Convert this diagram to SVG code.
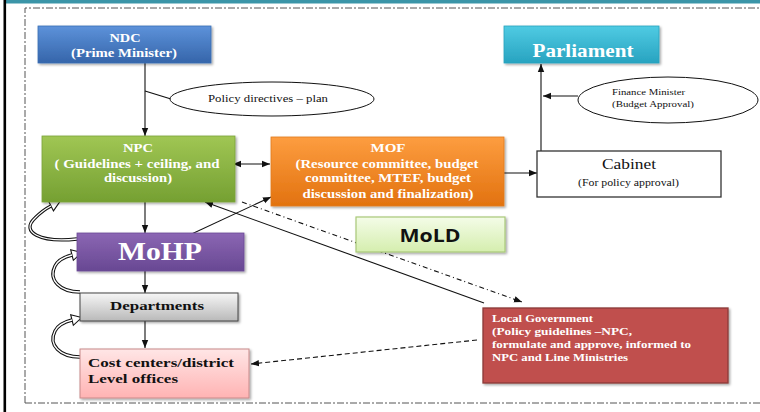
<svg xmlns="http://www.w3.org/2000/svg" width="760" height="412" viewBox="0 0 760 412">
<defs>
<style>
.t{font-family:"Liberation Serif","Times New Roman",serif;font-weight:bold;fill:#fff;}
.tb{font-family:"Liberation Serif","Times New Roman",serif;font-weight:bold;fill:#111;}
.tr{font-family:"Liberation Serif","Times New Roman",serif;fill:#111;}
.c{stroke:#111;stroke-width:1.1;fill:none;}
.hb{stroke:#111;stroke-width:3.4;fill:none;}
.hw{stroke:#fff;stroke-width:1.3;fill:none;}
</style>
<linearGradient id="gBlue" x1="0" y1="0" x2="0" y2="1"><stop offset="0" stop-color="#5d92da"/><stop offset="1" stop-color="#3565aa"/></linearGradient>
<linearGradient id="gTeal" x1="0" y1="0" x2="0" y2="1"><stop offset="0" stop-color="#4fcbe3"/><stop offset="1" stop-color="#28a3c0"/></linearGradient>
<linearGradient id="gGreen" x1="0" y1="0" x2="0" y2="1"><stop offset="0" stop-color="#a0c654"/><stop offset="1" stop-color="#75a032"/></linearGradient>
<linearGradient id="gOrange" x1="0" y1="0" x2="0" y2="1"><stop offset="0" stop-color="#fd9d40"/><stop offset="1" stop-color="#e2720f"/></linearGradient>
<linearGradient id="gPurple" x1="0" y1="0" x2="0" y2="1"><stop offset="0" stop-color="#8b66b3"/><stop offset="1" stop-color="#684893"/></linearGradient>
<linearGradient id="gGray" x1="0" y1="0" x2="0" y2="1"><stop offset="0" stop-color="#f6f6f6"/><stop offset="1" stop-color="#b9b9b9"/></linearGradient>
<linearGradient id="gPink" x1="0" y1="0" x2="0" y2="1"><stop offset="0" stop-color="#ffe6e6"/><stop offset="1" stop-color="#ffb3b3"/></linearGradient>
<linearGradient id="gLime" x1="0" y1="0" x2="0" y2="1"><stop offset="0" stop-color="#f4fce8"/><stop offset="1" stop-color="#d5eeae"/></linearGradient>
<filter id="sh" x="-10%" y="-10%" width="120%" height="130%"><feDropShadow dx="1.5" dy="1.5" stdDeviation="1" flood-color="#000" flood-opacity="0.35"/></filter>
<marker id="ah" markerUnits="userSpaceOnUse" markerWidth="9" markerHeight="8" refX="8" refY="4" orient="auto-start-reverse" viewBox="0 0 9 8"><path d="M0,0.8 L8,4 L0,7.2 Z" fill="#111"/></marker>
<marker id="hol" markerUnits="userSpaceOnUse" markerWidth="13" markerHeight="14" refX="1" refY="7" orient="auto" viewBox="0 0 13 14"><path d="M1,1.5 L11,7 L1,12.5 Z" fill="#fff" stroke="#111" stroke-width="1.1"/></marker>
</defs>

<rect x="0" y="0" width="760" height="412" fill="#fff"/>
<rect x="6" y="0" width="754" height="3.5" fill="#3b95a8"/>
<rect x="3.5" y="0" width="2.6" height="412" fill="#000"/>
<path d="M25,403 L25,8 L760,8 M25,403 L760,403" fill="none" stroke="#555" stroke-width="1" stroke-dasharray="7,2,2,2"/>

<g id="connectors">
<path class="c" d="M145,63 L145,136" marker-end="url(#ah)"/>
<path class="c" d="M145,91 L171,99"/>
<path class="c" d="M233,164 L270,164" marker-start="url(#ah)" marker-end="url(#ah)"/>
<path class="c" d="M145,202 L145,233" marker-end="url(#ah)"/>
<path class="c" d="M183,238 L271,197" marker-end="url(#ah)"/>
<path class="c" d="M484,303 L205,202" marker-end="url(#ah)"/>
<path class="c" d="M242,202 L522,302" stroke-dasharray="5,3,1,3" marker-end="url(#ah)"/>
<path class="c" d="M504,173 L537,173" stroke="#555" stroke-width="1.6" marker-end="url(#ah)"/>
<path class="c" d="M541,151 L541,64" marker-end="url(#ah)"/>
<path class="c" d="M578,96 L543,96" marker-end="url(#ah)"/>
<path class="c" d="M145,271 L145,293" marker-end="url(#ah)"/>
<path class="c" d="M145,321 L145,348" marker-end="url(#ah)"/>
<path class="c" d="M477,340 L251,364" stroke-dasharray="5,3" marker-end="url(#ah)"/>
<path class="hb" d="M77,239 C40,243 20,232 35,218 C40,213 45,209 51,206" marker-end="url(#hol)"/>
<path class="hw" d="M77,239 C40,243 20,232 35,218 C40,213 45,209 51,206"/>
<path class="hb" d="M80,292 C60,292 48,280 55,266 C58,260 64,257 72,255" marker-end="url(#hol)"/>
<path class="hw" d="M80,292 C60,292 48,280 55,266 C58,260 64,257 72,255"/>
<path class="hb" d="M80,357 C60,357 48,345 55,331 C58,325 64,322 72,320" marker-end="url(#hol)"/>
<path class="hw" d="M80,357 C60,357 48,345 55,331 C58,325 64,322 72,320"/>
</g>

<g id="ndc">
<rect x="38" y="26" width="173" height="37" fill="url(#gBlue)" stroke="#3a6fb5" stroke-width="0.8" filter="url(#sh)"/>
<text class="t" x="125" y="42" font-size="13" text-anchor="middle" textLength="31" lengthAdjust="spacingAndGlyphs">NDC</text>
<text class="t" x="124" y="57" font-size="13" text-anchor="middle" textLength="106" lengthAdjust="spacingAndGlyphs">(Prime Minister)</text>
</g>

<g id="policy-directives">
<ellipse cx="272" cy="99" rx="102" ry="17" fill="#fff" stroke="#111" stroke-width="1"/>
<text class="tr" x="208" y="102" font-size="10.5" textLength="120" lengthAdjust="spacingAndGlyphs">Policy directives – plan</text>
</g>

<g id="parliament">
<rect x="504" y="26" width="155" height="37" fill="url(#gTeal)" stroke="#2aa3be" stroke-width="0.8" filter="url(#sh)"/>
<text class="t" x="583" y="57" font-size="19" text-anchor="middle" textLength="101" lengthAdjust="spacingAndGlyphs">Parliament</text>
</g>

<g id="finance-minister">
<ellipse cx="668" cy="100" rx="90" ry="23" fill="#fff" stroke="#111" stroke-width="1"/>
<text class="tr" x="612" y="95" font-size="8.5" textLength="73" lengthAdjust="spacingAndGlyphs">Finance Minister</text>
<text class="tr" x="612" y="107" font-size="8.5" textLength="82" lengthAdjust="spacingAndGlyphs">(Budget Approval)</text>
</g>

<g id="npc">
<rect x="42" y="136" width="193" height="66" fill="url(#gGreen)" stroke="#7aa43a" stroke-width="0.8" filter="url(#sh)"/>
<text class="t" x="138" y="152" font-size="13" text-anchor="middle" textLength="30" lengthAdjust="spacingAndGlyphs">NPC</text>
<text class="t" x="137" y="168" font-size="13" text-anchor="middle" textLength="165" lengthAdjust="spacingAndGlyphs">( Guidelines + ceiling, and</text>
<text class="t" x="138" y="182" font-size="13" text-anchor="middle" textLength="68" lengthAdjust="spacingAndGlyphs">discussion)</text>
</g>

<g id="mof">
<rect x="271" y="137" width="233" height="69" fill="url(#gOrange)" stroke="#e07a1f" stroke-width="0.8" filter="url(#sh)"/>
<text class="t" x="388" y="152" font-size="13" text-anchor="middle" textLength="35" lengthAdjust="spacingAndGlyphs">MOF</text>
<text class="t" x="387" y="168" font-size="13" text-anchor="middle" textLength="183" lengthAdjust="spacingAndGlyphs">(Resource committee, budget</text>
<text class="t" x="388" y="182" font-size="13" text-anchor="middle" textLength="166" lengthAdjust="spacingAndGlyphs">committee, MTEF, budget</text>
<text class="t" x="388" y="198" font-size="13" text-anchor="middle" textLength="171" lengthAdjust="spacingAndGlyphs">discussion and finalization)</text>
</g>

<g id="cabinet">
<rect x="537" y="151" width="184" height="46" fill="#fff" stroke="#333" stroke-width="1.3"/>
<text class="tr" x="629" y="169" font-size="14" text-anchor="middle" textLength="54" lengthAdjust="spacingAndGlyphs">Cabinet</text>
<text class="tr" x="578" y="186" font-size="9.5" textLength="101" lengthAdjust="spacingAndGlyphs">(For policy approval)</text>
</g>

<g id="mold">
<rect x="356" y="217" width="149" height="35" fill="url(#gLime)" stroke="#a9c979" stroke-width="1.2" filter="url(#sh)"/>
<text x="430" y="242" font-family="'Open Sans','Liberation Sans',sans-serif" font-weight="bold" font-size="18" fill="#111" text-anchor="middle" textLength="61" lengthAdjust="spacingAndGlyphs">MoLD</text>
</g>

<g id="mohp">
<rect x="77" y="233" width="167" height="38" fill="url(#gPurple)" stroke="#6b4a96" stroke-width="0.8" filter="url(#sh)"/>
<text class="t" x="160" y="260" font-size="25" text-anchor="middle" textLength="84" lengthAdjust="spacingAndGlyphs">MoHP</text>
</g>

<g id="departments">
<rect x="80" y="293" width="158" height="28" fill="url(#gGray)" stroke="#444" stroke-width="1" filter="url(#sh)"/>
<text class="tb" x="157" y="310" font-size="13.5" text-anchor="middle" textLength="94" lengthAdjust="spacingAndGlyphs">Departments</text>
</g>

<g id="cost-centers">
<rect x="80" y="349" width="169" height="49" fill="url(#gPink)" stroke="#c88a8a" stroke-width="1" filter="url(#sh)"/>
<text class="tb" x="88" y="367" font-size="13.5" textLength="146" lengthAdjust="spacingAndGlyphs">Cost centers/district</text>
<text class="tb" x="88" y="383" font-size="13.5" textLength="90" lengthAdjust="spacingAndGlyphs">Level offices</text>
</g>

<g id="local-government">
<rect x="483" y="308" width="245" height="75" fill="#c0504d" stroke="#8b3a38" stroke-width="1.3" filter="url(#sh)"/>
<text class="t" x="492" y="322" font-size="10.5" textLength="101" lengthAdjust="spacingAndGlyphs">Local Government</text>
<text class="t" x="492" y="335" font-size="10.5" textLength="140" lengthAdjust="spacingAndGlyphs">(Policy guidelines –NPC,</text>
<text class="t" x="492" y="348" font-size="10.5" textLength="199" lengthAdjust="spacingAndGlyphs">formulate and approve,  informed to</text>
<text class="t" x="492" y="361" font-size="10.5" textLength="136" lengthAdjust="spacingAndGlyphs">NPC and Line Ministries</text>
</g>
</svg>
